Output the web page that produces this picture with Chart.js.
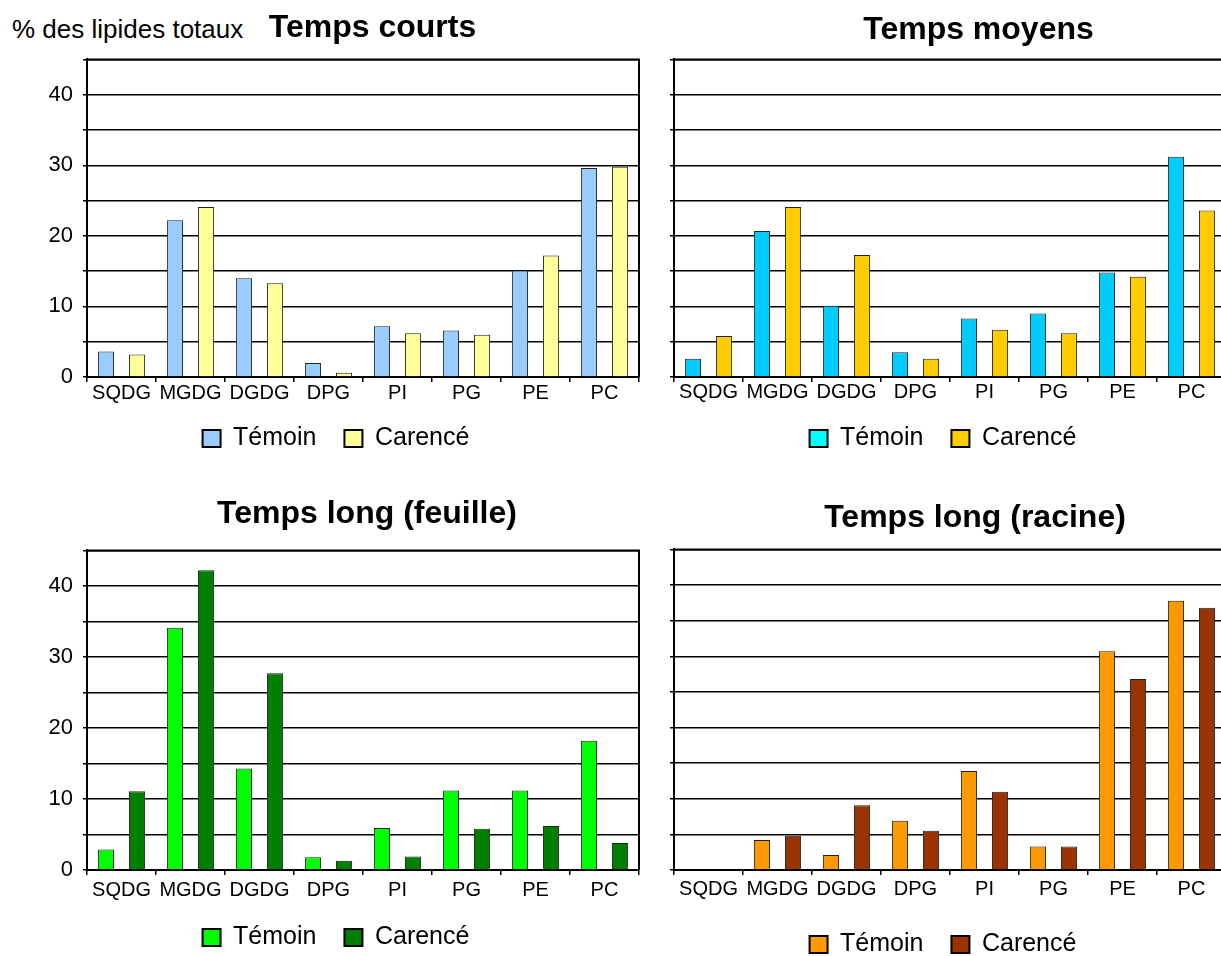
<!DOCTYPE html>
<html lang="fr">
<head>
<meta charset="utf-8">
<title>% des lipides totaux</title>
<script src="https://cdn.jsdelivr.net/npm/chart.js@4.4.1/dist/chart.umd.min.js"></script>
<style>
  html, body { margin: 0; padding: 0; background: #fff; overflow: hidden; }
  body { position: relative; width: 1221px; height: 956px; font-family: 'Liberation Sans', Arial, sans-serif; }
  .panel { position: absolute; }
  .panel canvas { display: block; }
  #unit { position: absolute; left: 12px; top: 14px; font-size: 26px; line-height: 30px; color: #000; white-space: nowrap; }
</style>
</head>
<body>
<div id="unit">% des lipides totaux</div>
<div class="panel"><canvas id="c-courts"></canvas></div>
<div class="panel"><canvas id="c-moyens"></canvas></div>
<div class="panel"><canvas id="c-feuille"></canvas></div>
<div class="panel"><canvas id="c-racine"></canvas></div>

<script>
// ---- data -------------------------------------------------------------
const categories = ['SQDG', 'MGDG', 'DGDG', 'DPG', 'PI', 'PG', 'PE', 'PC'];
const seriesLabels = ['Témoin', 'Carencé'];
const yTickLabels = [0, 10, 20, 30, 40];
const panelTitles = ['Temps courts', 'Temps moyens', 'Temps long (feuille)', 'Temps long (racine)'];

const courtsTemoin   = [3.6, 22.2, 14.0, 2.0, 7.2, 6.6, 15.1, 29.6];
const courtsCarence  = [3.2, 24.1, 13.3, 0.6, 6.2, 6.0, 17.2, 29.8];
const moyensTemoin   = [2.6, 20.7, 10.1, 3.5, 8.3, 9.0, 14.8, 31.2];
const moyensCarence  = [5.8, 24.1, 17.3, 2.6, 6.7, 6.2, 14.2, 23.6];
const feuilleTemoin  = [2.9, 34.1, 14.3, 1.8, 5.9, 11.2, 11.2, 18.2];
const feuilleCarence = [11.1, 42.2, 27.7, 1.3, 1.9, 5.8, 6.2, 3.8];
const racineTemoin   = [0, 4.2, 2.1, 6.9, 13.9, 3.3, 30.7, 37.8];
const racineCarence  = [0, 4.8, 9.1, 5.5, 11.0, 3.3, 26.8, 36.8];

// ---- panel layout -----------------------------------------------------
const panels = [
    { id: 'c-courts', title: panelTitles[0], temoin: courtsTemoin, carence: courtsCarence,
      colors: ['#99ccff', '#ffff99'], swatch: ['#99ccff', '#ffff99'],
      left: 0, top: 0, width: 641, height: 470, padLeft: 33, axisWidth: 54, showTicks: true,
      titlePad: { top: 9, bottom: 12 }, titleShift: 36.5, axisHeight: 30, labelPad: 1, legendLift: 9 },
    { id: 'c-moyens', title: panelTitles[1], temoin: moyensTemoin, carence: moyensCarence,
      colors: ['#00ccff', '#ffcc00'], swatch: ['#00ffff', '#ffcc00'],
      left: 641, top: 0, width: 587, height: 470, padLeft: 19, axisWidth: 14, showTicks: false,
      titlePad: { top: 11, bottom: 10 }, titleShift: 35.5, axisHeight: 30, labelPad: 0, legendLift: 9 },
    { id: 'c-feuille', title: panelTitles[2], temoin: feuilleTemoin, carence: feuilleCarence,
      colors: ['#00ff00', '#008000'], swatch: ['#00ff00', '#008000'],
      left: 0, top: 470, width: 641, height: 497, padLeft: 33, axisWidth: 54, showTicks: true,
      titlePad: { top: 25, bottom: 17 }, titleShift: 31, axisHeight: 34, labelPad: 5, legendLift: 7 },
    { id: 'c-racine', title: panelTitles[3], temoin: racineTemoin, carence: racineCarence,
      colors: ['#ff9900', '#993300'], swatch: ['#ff9900', '#993300'],
      left: 641, top: 470, width: 587, height: 497, padLeft: 19, axisWidth: 14, showTicks: false,
      titlePad: { top: 29, bottom: 12 }, titleShift: 32, axisHeight: 34, labelPad: 4, legendLift: 0 }
];

// nudges title and legend into place and closes the plot frame (top + right edge)
const panelFrame = {
    id: 'panelFrame',
    afterLayout(chart, args, opts) {
        const t = chart.titleBlock;
        if (t && opts.titleShift) {
            t.left += opts.titleShift;
            t.right += opts.titleShift;
        }
        const lg = chart.legend;
        if (lg && opts.legendLift) {
            lg.top -= opts.legendLift;
            lg.bottom -= opts.legendLift;
        }
    },
    beforeDatasetsDraw(chart) {
        const { ctx, chartArea: a } = chart;
        ctx.save();
        ctx.strokeStyle = '#000';
        ctx.lineWidth = 2;
        ctx.beginPath();
        ctx.moveTo(a.left, a.top);
        ctx.lineTo(a.right, a.top);
        ctx.lineTo(a.right, a.bottom);
        ctx.stroke();
        ctx.restore();
    }
};

Chart.defaults.font.family = "'Liberation Sans', Arial, sans-serif";
Chart.defaults.color = '#000';

function drawPanel(p) {
    const canvas = document.getElementById(p.id);
    canvas.width = p.width;
    canvas.height = p.height;
    canvas.parentNode.style.left = p.left + 'px';
    canvas.parentNode.style.top = p.top + 'px';

    return new Chart(canvas, {
        type: 'bar',
        data: {
            labels: categories,
            datasets: [
                { label: seriesLabels[0], data: p.temoin, backgroundColor: p.colors[0], borderColor: '#222', borderWidth: 1 },
                { label: seriesLabels[1], data: p.carence, backgroundColor: p.colors[1], borderColor: '#222', borderWidth: 1 }
            ]
        },
        options: {
            responsive: false,
            animation: false,
            devicePixelRatio: 1,
            layout: { padding: { left: p.padLeft, right: 2, top: 0, bottom: 0 } },
            datasets: { bar: { categoryPercentage: 0.9, barPercentage: 0.52 } },
            scales: {
                x: {
                    grid: { drawOnChartArea: false, color: '#000', lineWidth: 1.5, tickLength: 5 },
                    border: { color: '#000', width: 2 },
                    ticks: { color: '#000', font: { size: 20, lineHeight: 1 }, padding: p.labelPad, maxRotation: 0, autoSkip: false },
                    afterFit(scale) { scale.height = p.axisHeight; }
                },
                y: {
                    min: 0,
                    max: 45,
                    grid: { color: '#000', lineWidth: 1.5, tickLength: 4 },
                    border: { color: '#000', width: 2 },
                    ticks: {
                        display: p.showTicks,
                        stepSize: 5,
                        color: '#000',
                        font: { size: 22 },
                        padding: 10,
                        callback: v => (yTickLabels.includes(v) ? v : '')
                    },
                    afterFit(scale) { scale.width = p.axisWidth; }
                }
            },
            plugins: {
                title: {
                    display: true,
                    text: p.title,
                    color: '#000',
                    font: { size: 32, weight: 'bold' },
                    padding: p.titlePad
                },
                legend: {
                    position: 'bottom',
                    labels: {
                        color: '#000',
                        font: { size: 25 },
                        boxWidth: 18,
                        boxHeight: 17,
                        padding: 28,
                        generateLabels(chart) {
                            const items = Chart.defaults.plugins.legend.labels.generateLabels(chart);
                            return items.map((it, i) => Object.assign(it, {
                                fillStyle: p.swatch[i],
                                strokeStyle: '#000',
                                lineWidth: 2
                            }));
                        }
                    }
                },
                tooltip: { enabled: false },
                panelFrame: { titleShift: p.titleShift, legendLift: p.legendLift }
            }
        },
        plugins: [panelFrame]
    });
}

panels.forEach(drawPanel);
</script>
</body>
</html>
